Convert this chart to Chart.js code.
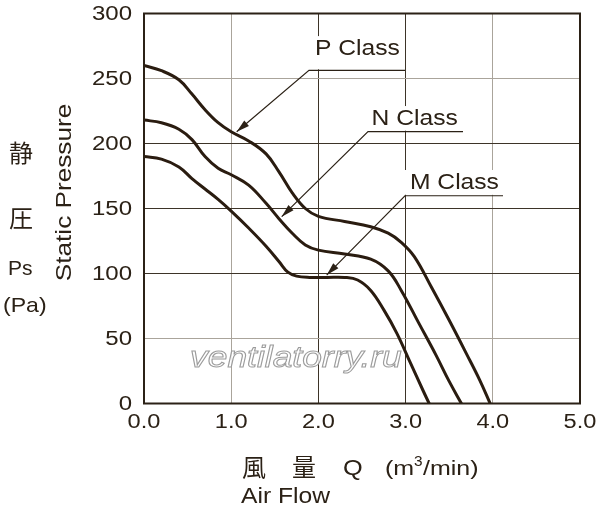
<!DOCTYPE html>
<html>
<head>
<meta charset="utf-8">
<script src="https://cdn.jsdelivr.net/npm/chart.js@4.4.1/dist/chart.umd.min.js"></script>
<style>
  html, body { margin: 0; padding: 0; background: #fff; }
  #wrap { width: 600px; height: 512px; }
</style>
</head>
<body>
<div id="wrap"><canvas id="pq" width="600" height="512"></canvas></div>
<script>
// Curve readings (air flow m3/min -> static pressure Pa)
const pFlow = [0, 0.2, 0.4, 0.55, 0.7, 0.85, 1.0, 1.2, 1.4, 1.55, 1.7, 1.85, 2.0, 2.3, 2.6, 2.8, 2.95, 3.1, 3.3, 3.5, 3.7, 3.85, 3.97];
const pPress = [260, 256, 249, 238, 226, 216, 209, 202, 192, 178, 162, 150, 144, 140, 136, 131, 124, 113, 89, 64, 38, 18, 0];

const nFlow = [0, 0.2, 0.4, 0.55, 0.7, 0.85, 1.0, 1.2, 1.4, 1.55, 1.7, 1.85, 2.0, 2.3, 2.6, 2.8, 2.95, 3.15, 3.35, 3.5, 3.64];
const nPress = [218, 216, 211, 203, 190, 181, 176, 168, 154, 142, 131, 122, 118, 115, 111, 102, 87, 62, 37, 17, 0];

const mFlow = [0, 0.2, 0.4, 0.55, 0.7, 0.85, 1.0, 1.2, 1.4, 1.55, 1.65, 1.75, 1.9, 2.1, 2.3, 2.45, 2.6, 2.75, 2.9, 3.05, 3.2, 3.27];
const mPress = [190, 188, 182, 173, 165, 157, 148, 135, 121, 109, 101, 98, 97, 97, 97, 95, 87, 72, 54, 32, 10, 0];

const classNames = ['P Class', 'N Class', 'M Class'];

const INK = '#2b2116';
const GRID_DARK = '#3d3428';
const GRID_LIGHT = '#aaa49b';
const FONT = '"Liberation Sans", Arial, Helvetica, sans-serif';
const CJK = '"Noto Sans CJK JP", "Noto Sans CJK SC", sans-serif';

// callout placement in data units: underline y, underline x0..x1, text x/baseline, arrow tip
const callouts = [
    { lineY: 256.3, x0: 1.892, x1: 2.993, textX: 1.96, textY: 268, tipX: 1.063, tipY: 209.1 },
    { lineY: 209.1, x0: 2.569, x1: 3.658, textX: 2.61, textY: 214.2, tipX: 1.579, tipY: 143.7 },
    { lineY: 159.8, x0: 2.993, x1: 4.117, textX: 3.05, textY: 165, tipX: 2.095, tipY: 98.8 }
];

function toPoints(xs, ys) {
    return xs.map((x, i) => ({ x: x, y: ys[i] }));
}

// text with optional horizontal stretch (the original lettering is wide)
function txt(ctx, s, x, y, o) {
    ctx.save();
    ctx.translate(x, y);
    if (o.rot) ctx.rotate(o.rot);
    ctx.scale(o.sx || 1, 1);
    ctx.font = (o.style || '') + ' ' + o.size + 'px ' + (o.font || FONT);
    ctx.textAlign = o.align || 'left';
    ctx.textBaseline = o.base || 'alphabetic';
    if (o.stroke) {
        ctx.fillStyle = 'rgba(255,255,255,0.85)';
        ctx.fillText(s, 0, 0);
        ctx.strokeStyle = o.stroke;
        ctx.lineWidth = 1;
        ctx.strokeText(s, 0, 0);
    } else {
        ctx.fillStyle = o.color || INK;
        ctx.fillText(s, 0, 0);
    }
    ctx.restore();
}

const decor = {
    id: 'decor',
    beforeDatasetsDraw(chart) {
        const ctx = chart.ctx;
        const xs = chart.scales.x, ys = chart.scales.y;
        // watermark
        txt(ctx, 'ventilatorry.ru', 190, 367, { size: 30, sx: 1.18, style: 'italic', stroke: '#9c9c9c' });
        // white boxes behind callout labels
        ctx.save();
        ctx.fillStyle = '#fff';
        callouts.forEach(c => {
            const top = ys.getPixelForValue(c.textY) - 19;
            const bot = ys.getPixelForValue(c.lineY) - 1;
            const l = xs.getPixelForValue(c.x0), r = xs.getPixelForValue(c.x1);
            ctx.fillRect(l, top, r - l, bot - top);
        });
        ctx.restore();
    },
    afterDatasetsDraw(chart) {
        const ctx = chart.ctx;
        const xs = chart.scales.x, ys = chart.scales.y;
        const a = chart.chartArea;

        // frame
        ctx.save();
        ctx.strokeStyle = INK;
        ctx.lineWidth = 2;
        ctx.strokeRect(a.left, a.top, a.right - a.left, a.bottom - a.top);
        ctx.restore();

        // callouts
        callouts.forEach((c, i) => {
            const l = xs.getPixelForValue(c.x0), r = xs.getPixelForValue(c.x1);
            const ly = ys.getPixelForValue(c.lineY);
            const tx = xs.getPixelForValue(c.tipX), ty = ys.getPixelForValue(c.tipY);
            ctx.save();
            ctx.strokeStyle = INK;
            ctx.fillStyle = INK;
            ctx.lineWidth = 1.2;
            ctx.beginPath();
            ctx.moveTo(r, ly);
            ctx.lineTo(l, ly);
            ctx.lineTo(tx, ty);
            ctx.stroke();
            // arrow head
            let dx = tx - l, dy = ty - ly;
            const len = Math.hypot(dx, dy);
            dx /= len; dy /= len;
            const bx = tx - dx * 13, by = ty - dy * 13;
            ctx.beginPath();
            ctx.moveTo(tx, ty);
            ctx.lineTo(bx - dy * 3.6, by + dx * 3.6);
            ctx.lineTo(bx + dy * 3.6, by - dx * 3.6);
            ctx.closePath();
            ctx.fill();
            ctx.restore();
            txt(ctx, classNames[i], xs.getPixelForValue(c.textX), ys.getPixelForValue(c.textY), { size: 22, sx: 1.12 });
        });
    },
    afterDraw(chart) {
        const ctx = chart.ctx;
        const xs = chart.scales.x, ys = chart.scales.y;

        // tick labels
        ys.ticks.forEach(t => {
            txt(ctx, String(t.value), 132, ys.getPixelForValue(t.value) + 1, { size: 20, sx: 1.2, align: 'right', base: 'middle' });
        });
        xs.ticks.forEach(t => {
            txt(ctx, t.value.toFixed(1), xs.getPixelForValue(t.value), 422, { size: 20, sx: 1.18, align: 'center', base: 'middle' });
        });

        // y axis titles
        txt(ctx, 'Static Pressure', 70.5, 192.5, { size: 22, sx: 1.19, align: 'center', rot: -Math.PI / 2 });
        txt(ctx, '静', 21, 153, { size: 24, font: CJK, align: 'center', base: 'middle' });
        txt(ctx, '圧', 21, 218, { size: 24, font: CJK, align: 'center', base: 'middle' });
        txt(ctx, 'Ps', 8, 275, { size: 21 });
        txt(ctx, '(Pa)', 3, 311.5, { size: 21, sx: 1.1 });

        // x axis titles
        txt(ctx, '風', 242, 476, { size: 24, font: CJK });
        txt(ctx, '量', 292, 476, { size: 24, font: CJK });
        txt(ctx, 'Q', 343, 475, { size: 22, sx: 1.15 });
        txt(ctx, '(m', 385, 475, { size: 21, sx: 1.19 });
        txt(ctx, '3', 414, 466, { size: 14, sx: 1.1 });
        txt(ctx, '/min)', 423, 475, { size: 21, sx: 1.19 });
        txt(ctx, 'Air Flow', 241, 502.5, { size: 22, sx: 1.12 });
    }
};

function gridColor(ctx, light) {
    return light.includes(ctx.tick.value) ? GRID_LIGHT : GRID_DARK;
}

const curveStyle = {
    borderColor: '#2a1c10',
    borderWidth: 3,
    pointRadius: 0,
    fill: false,
    tension: 0.4,
    borderCapStyle: 'round',
    borderJoinStyle: 'round'
};

new Chart(document.getElementById('pq').getContext('2d'), {
    type: 'line',
    data: {
        datasets: [
            Object.assign({ label: classNames[0], data: toPoints(pFlow, pPress) }, curveStyle),
            Object.assign({ label: classNames[1], data: toPoints(nFlow, nPress) }, curveStyle),
            Object.assign({ label: classNames[2], data: toPoints(mFlow, mPress) }, curveStyle)
        ]
    },
    options: {
        responsive: false,
        animation: false,
        events: [],
        layout: { padding: { top: 13.5, right: 20, left: 0, bottom: 0 } },
        plugins: {
            legend: { display: false },
            tooltip: { enabled: false }
        },
        scales: {
            x: {
                type: 'linear',
                min: 0,
                max: 5,
                ticks: { stepSize: 1, display: false },
                grid: { color: c => gridColor(c, [1, 4]), lineWidth: 1, drawTicks: false },
                border: { display: false },
                afterFit: s => { s.height = 108.5; }
            },
            y: {
                min: 0,
                max: 300,
                ticks: { stepSize: 50, display: false },
                grid: { color: c => gridColor(c, [50, 250]), lineWidth: 1, drawTicks: false },
                border: { display: false },
                afterFit: s => { s.width = 144; }
            }
        }
    },
    plugins: [decor]
});
</script>
</body>
</html>
